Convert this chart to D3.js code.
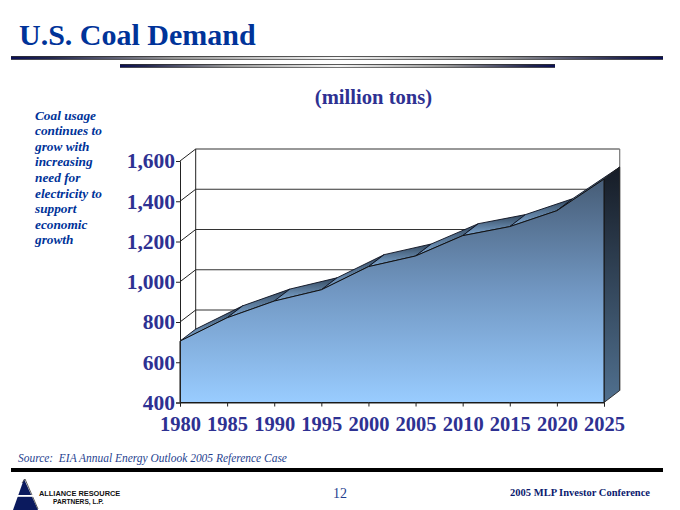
<!DOCTYPE html>
<html><head><meta charset="utf-8">
<script src="https://cdn.jsdelivr.net/npm/d3@7"></script>
<style>html,body{margin:0;padding:0;background:#fff}svg{display:block}text{font-family:"Liberation Serif",serif}</style>
</head><body><svg id="c" width="680" height="510"></svg>
<script>
const years=[1980,1985,1990,1995,2000,2005,2010,2015,2020,2025];
const demand=[705,821,904,960,1075,1128,1229,1274,1353,1510];
const yTicks=[400,600,800,1000,1200,1400,1600];
const noteLines=["Coal usage","continues to","grow with","increasing","need for","electricity to","support","economic","growth"];
const titleText="U.S. Coal Demand", unitText="(million tons)";
const sourceText="Source:  EIA Annual Energy Outlook 2005 Reference Case";
const pageNo="12", confText="2005 MLP Investor Conference";

const svg=d3.select("#c"), defs=svg.append("defs");
const navy="#2e3192", dx=15.7, dy=-12;
const x=d3.scalePoint().domain(years).range([180,604]);
const y=d3.scaleLinear().domain([400,1600]).range([402.5,161]);

function grad(id,stops,vertical=true){
  const g=defs.append("linearGradient").attr("id",id).attr("x1",0).attr("y1",0)
    .attr("x2",vertical?0:1).attr("y2",vertical?1:0);
  stops.forEach(([o,c])=>g.append("stop").attr("offset",o).attr("stop-color",c));
}
grad("front",[[0,"#465c76"],[0.5,"#7197c2"],[1,"#99ccff"]]);
grad("side",[[0,"#161c26"],[1,"#50708f"]]);
grad("topSeg",[[0,"#34495f"],[1,"#7fa8d2"]]);
grad("rule",[[0,"#0a0f55"],[0.06,"#22264f"],[0.25,"#999"],[0.5,"#f4f4f4"],[0.75,"#999"],[0.94,"#22264f"],[1,"#0a0f55"]],false);

// header
svg.append("text").attr("x",19).attr("y",45).attr("font-size",30).attr("font-weight","bold").attr("fill","#003399").text(titleText);
[[11,663,56],[120,555,64]].forEach(([a,b,t])=>{
  svg.append("rect").attr("x",a).attr("y",t).attr("width",b-a).attr("height",4).attr("fill","url(#rule)");
  svg.append("rect").attr("x",a).attr("y",t).attr("width",b-a).attr("height",.8).attr("fill","#333");
  svg.append("rect").attr("x",a).attr("y",t+3.2).attr("width",b-a).attr("height",.8).attr("fill","#555");
});
svg.append("text").attr("x",373.5).attr("y",104).attr("text-anchor","middle").attr("font-size",20.6).attr("font-weight","bold").attr("fill",navy).text(unitText);

// side note
svg.append("g").selectAll("text").data(noteLines).join("text")
  .attr("x",35).attr("y",(d,i)=>119.5+i*15.6).attr("font-size",13.3).attr("font-weight","bold").attr("font-style","italic").attr("fill","#003399").text(d=>d);

// back wall + grid
const wall=svg.append("g");
const x0=x(1980), x1=x(2025);
yTicks.slice(2).forEach(v=>{
  wall.append("line").attr("x1",x0+dx).attr("x2",x1+dx).attr("y1",y(v)+dy).attr("y2",y(v)+dy).attr("stroke","#333").attr("stroke-width",1.2);
});
yTicks.forEach(v=>{
  wall.append("line").attr("x1",x0).attr("x2",x0+dx).attr("y1",y(v)).attr("y2",y(v)+dy).attr("stroke","#222").attr("stroke-width",1);
});
wall.append("line").attr("x1",x0+dx).attr("x2",x0+dx).attr("y1",y(1600)+dy).attr("y2",y(400)+dy).attr("stroke","#222");
wall.append("line").attr("x1",x1+dx).attr("x2",x1+dx).attr("y1",y(1600)+dy).attr("y2",y(400)+dy).attr("stroke","#777").attr("stroke-width",1.2);

// area with depth
const pts=years.map((yr,i)=>[x(yr),y(demand[i])]);
const chart=svg.append("g");
d3.pairs(pts).forEach(([a,b])=>{
  chart.append("path").attr("d",d3.line()([a,b,[b[0]+dx,b[1]+dy],[a[0]+dx,a[1]+dy]])+"Z")
    .attr("fill","url(#topSeg)").attr("stroke","#0a0f1e").attr("stroke-width",.9).attr("stroke-linejoin","round");
});
const last=pts[pts.length-1];
chart.append("path").attr("d",d3.line()([[last[0],y(400)],last,[last[0]+dx,last[1]+dy],[last[0]+dx,y(400)+dy]])+"Z")
  .attr("fill","url(#side)").attr("stroke","#222").attr("stroke-width",.9);
const area=d3.area().x((d,i)=>x(years[i])).y0(y(400)).y1(d=>y(d));
chart.append("path").attr("d",area(demand)).attr("fill","url(#front)").attr("stroke","#111").attr("stroke-width",1);

// axes
const ax=svg.append("g").attr("transform",`translate(${x0},0)`)
  .call(d3.axisLeft(y).tickValues(yTicks).tickSize(4).tickPadding(1).tickFormat(d3.format(",")));
ax.selectAll("text").attr("font-size",21.5).attr("font-weight","bold").attr("fill",navy).style("font-family",'"Liberation Serif",serif');
const bx=svg.append("g").attr("transform",`translate(0,${y(400)})`)
  .call(d3.axisBottom(x).tickSize(4).tickPadding(10));
bx.selectAll("text").attr("font-size",20.5).attr("font-weight","bold").attr("fill",navy).style("font-family",'"Liberation Serif",serif');
svg.selectAll(".domain,.tick line").attr("stroke","#222");

// footer
svg.append("text").attr("x",18).attr("y",462).attr("font-size",11.45).attr("font-style","italic").attr("fill","#1f3f8f").style("white-space","pre").text(sourceText);
svg.append("rect").attr("x",11).attr("y",468).attr("width",652).attr("height",4).attr("fill","#000");
const logo=svg.append("g");
logo.append("path").attr("d","M13 510L24 479L38 510Z").attr("fill","#0b1a5e");
logo.append("path").attr("d","M22 483L25 479L38 509").attr("fill","none").attr("stroke","#333").attr("stroke-width",.8);
logo.append("rect").attr("x",13).attr("y",495).attr("width",25).attr("height",1.8).attr("fill","#fff");
logo.append("text").attr("x",39).attr("y",496).attr("font-size",7.4).attr("font-weight","bold").style("font-family",'"Liberation Sans",sans-serif').attr("fill","#111").text("ALLIANCE RESOURCE");
logo.append("text").attr("x",53).attr("y",504).attr("font-size",6.6).attr("font-weight","bold").style("font-family",'"Liberation Sans",sans-serif').attr("fill","#111").text("PARTNERS, L.P.");
svg.append("text").attr("x",340).attr("y",498).attr("text-anchor","middle").attr("font-size",14).attr("fill","#1f3f8f").text(pageNo);
svg.append("text").attr("x",650).attr("y",496).attr("text-anchor","end").attr("font-size",10.5).attr("font-weight","bold").attr("fill","#0b1a6e").text(confText);
</script></body></html>
